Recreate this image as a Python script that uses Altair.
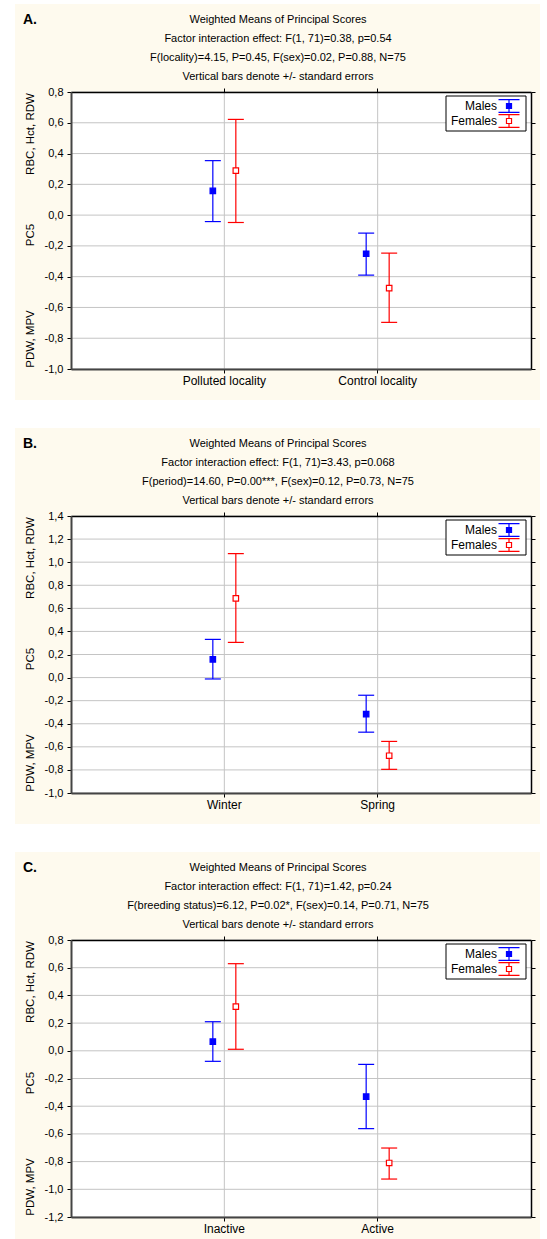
import altair as alt
import pandas as pd

FONT = "Liberation Sans, Arial, sans-serif"
BLUE = "#0000ff"
RED = "#ff0000"
CREAM = "#fefaee"
GRID = "#c4c4c4"
SEXES = ["Males", "Females"]

# ---------------- Panel A ----------------
A_letter = "A."
A_title = [
    "Weighted Means of Principal Scores",
    "Factor interaction effect: F(1, 71)=0.38, p=0.54",
    "F(locality)=4.15, P=0.45, F(sex)=0.02, P=0.88, N=75",
    "Vertical bars denote +/- standard errors",
]
A_cats = ["Polluted locality", "Control locality"]
A_m_mean = [0.157, -0.251]
A_m_low = [-0.042, -0.390]
A_m_up = [0.354, -0.117]
A_f_mean = [0.289, -0.474]
A_f_low = [-0.048, -0.697]
A_f_up = [0.622, -0.247]
A_yticks = [-1.0, -0.8, -0.6, -0.4, -0.2, 0.0, 0.2, 0.4, 0.6, 0.8]

# ---------------- Panel B ----------------
B_letter = "B."
B_title = [
    "Weighted Means of Principal Scores",
    "Factor interaction effect: F(1, 71)=3.43, p=0.068",
    "F(period)=14.60, P=0.00***, F(sex)=0.12, P=0.73, N=75",
    "Vertical bars denote +/- standard errors",
]
B_cats = ["Winter", "Spring"]
B_m_mean = [0.158, -0.317]
B_m_low = [-0.012, -0.473]
B_m_up = [0.331, -0.153]
B_f_mean = [0.686, -0.677]
B_f_low = [0.305, -0.795]
B_f_up = [1.074, -0.553]
B_yticks = [-1.0, -0.8, -0.6, -0.4, -0.2, 0.0, 0.2, 0.4, 0.6, 0.8, 1.0, 1.2, 1.4]

# ---------------- Panel C ----------------
C_letter = "C."
C_title = [
    "Weighted Means of Principal Scores",
    "Factor interaction effect: F(1, 71)=1.42, p=0.24",
    "F(breeding status)=6.12, P=0.02*, F(sex)=0.14, P=0.71, N=75",
    "Vertical bars denote +/- standard errors",
]
C_cats = ["Inactive", "Active"]
C_m_mean = [0.066, -0.331]
C_m_low = [-0.076, -0.562]
C_m_up = [0.210, -0.098]
C_f_mean = [0.319, -0.810]
C_f_low = [0.011, -0.926]
C_f_up = [0.629, -0.702]
C_yticks = [-1.2, -1.0, -0.8, -0.6, -0.4, -0.2, 0.0, 0.2, 0.4, 0.6, 0.8]

Y_TITLES = ["RBC, Hct, RDW", "PC5", "PDW, MPV"]

W, H = 460, 277

LBL = ("datum.value < -0.0001 ? '-' + replace(format(-datum.value, '.1f'), '.', ',') "
       ": replace(format(abs(datum.value), '.1f'), '.', ',')")

# legend glyph: error bar with a square in the middle (unit box -1..1)
GLYPH = ("M-1,-0.6H1M-1,0.6H1M0,-0.6V-0.24M0,0.24V0.6"
         "M-0.24,-0.24H0.24V0.24H-0.24Z")


def panel(letter, title, cats, m_mean, m_low, m_up, f_mean, f_low, f_up, yticks):
    df = pd.DataFrame({
        "cat": cats + cats,
        "sex": [SEXES[0]] * len(cats) + [SEXES[1]] * len(cats),
        "mean": m_mean + f_mean,
        "lower": m_low + f_low,
        "upper": m_up + f_up,
    })
    one = pd.DataFrame({"k": [0]})
    legdf = pd.DataFrame({"sex": SEXES})
    xscale = alt.Scale(domain=cats, paddingInner=0.7, paddingOuter=0.85)
    yscale = alt.Scale(domain=[yticks[0], yticks[-1]], nice=False, zero=False)
    offscale = alt.Scale(domain=SEXES, paddingInner=0, paddingOuter=0)
    cscale = alt.Scale(domain=SEXES, range=[BLUE, RED])
    fscale = alt.Scale(domain=SEXES, range=[BLUE, "white"])
    legy = alt.Scale(type="point", domain=SEXES, range=[14, 29], padding=0)

    cream = alt.Chart(one).mark_rect(fill=CREAM).encode(
        x=alt.value(-56), x2=alt.value(469), y=alt.value(-88), y2=alt.value(308))
    plotbg = alt.Chart(one).mark_rect(fill="white").encode(
        x=alt.value(0), x2=alt.value(W), y=alt.value(0), y2=alt.value(H))

    hgrid = alt.Chart(pd.DataFrame({"v": yticks})).mark_rule(color=GRID, strokeWidth=1).encode(
        y=alt.Y("v:Q", scale=yscale,
                axis=alt.Axis(orient="right", labels=False, ticks=True, tickSize=4,
                              tickColor="black", domain=True, domainColor="black",
                              domainWidth=1.5, grid=False, title=None, values=yticks,
                              zindex=1)),
        x=alt.value(0), x2=alt.value(W))

    vgrid = alt.Chart(pd.DataFrame({"cat": cats})).mark_rule(color=GRID, strokeWidth=1).encode(
        x=alt.X("cat:N", scale=xscale, sort=cats, bandPosition=0.5,
                axis=alt.Axis(orient="top", labels=False, ticks=True, tickSize=4,
                              tickColor="black", domain=True, domainColor="black",
                              domainWidth=1.5, grid=False, title=None, zindex=1)),
        y=alt.value(0), y2=alt.value(H))

    xenc_axis = alt.X("cat:N", scale=xscale, sort=cats,
                      axis=alt.Axis(orient="bottom", title=None, grid=False,
                                    domainColor="#444", domainWidth=2, tickSize=4,
                                    tickColor="black", labelFontSize=12, labelFont=FONT,
                                    labelColor="black", labelPadding=2, labelAngle=0,
                                    zindex=1))
    xenc = alt.X("cat:N", scale=xscale, sort=cats, axis=None)
    xoff = alt.XOffset("sex:N", scale=offscale, sort=SEXES)

    bars = alt.Chart(df).mark_rule(strokeWidth=1.2, opacity=1).encode(
        x=xenc_axis, xOffset=xoff,
        y=alt.Y("lower:Q", scale=yscale,
                axis=alt.Axis(orient="left", values=yticks, labelExpr=LBL, title=None,
                              grid=False, domain=True, domainColor="#444", domainWidth=2,
                              ticks=True, tickSize=4, tickColor="black", labelFontSize=11,
                              labelFont=FONT, labelColor="black", labelPadding=4,
                              zindex=1)),
        y2="upper:Q",
        color=alt.Color("sex:N", scale=cscale, legend=None))

    cap_up = alt.Chart(df).mark_tick(size=16, thickness=1.2, opacity=1).encode(
        x=xenc, xOffset=xoff, y=alt.Y("upper:Q", scale=yscale, axis=None),
        color=alt.Color("sex:N", scale=cscale, legend=None))
    cap_lo = alt.Chart(df).mark_tick(size=16, thickness=1.2, opacity=1).encode(
        x=xenc, xOffset=xoff, y=alt.Y("lower:Q", scale=yscale, axis=None),
        color=alt.Color("sex:N", scale=cscale, legend=None))

    pts = alt.Chart(df).mark_square(size=30, strokeWidth=1.2, opacity=1).encode(
        x=xenc, xOffset=xoff, y=alt.Y("mean:Q", scale=yscale, axis=None),
        fill=alt.Fill("sex:N", scale=fscale, legend=None),
        stroke=alt.Stroke("sex:N", scale=cscale, legend=None))

    # legend (box, labels, error-bar glyphs), built from the SEXES list
    legbox = alt.Chart(one).mark_rect(fill="white", stroke="black", strokeWidth=1).encode(
        x=alt.value(375), x2=alt.value(455), y=alt.value(4), y2=alt.value(39))
    leglab = alt.Chart(legdf).mark_text(font=FONT, fontSize=12, align="right",
                                        baseline="middle", color="black").encode(
        text="sex:N", x=alt.value(426),
        y=alt.Y("sex:N", scale=legy, sort=SEXES, axis=None))
    legsym = alt.Chart(legdf).mark_point(shape=GLYPH, size=441, strokeWidth=1.2,
                                         opacity=1, filled=False).encode(
        x=alt.value(438),
        y=alt.Y("sex:N", scale=legy, sort=SEXES, axis=None),
        fill=alt.Fill("sex:N", scale=fscale, legend=None),
        stroke=alt.Stroke("sex:N", scale=cscale, legend=None))

    letter_mark = alt.Chart(one).mark_text(
        text=letter, font=FONT, fontSize=14, fontWeight="bold", align="left",
        baseline="middle", color="black").encode(x=alt.value(-48), y=alt.value(-72))

    ytitle_y = [42, 143, 247]
    ytitles = [
        alt.Chart(one).mark_text(text=t, font=FONT, fontSize=11.5, angle=270, align="center",
                                 baseline="middle", color="black").encode(
            x=alt.value(-40), y=alt.value(yy))
        for t, yy in zip(Y_TITLES, ytitle_y)
    ]

    layer = alt.layer(cream, plotbg, hgrid, vgrid, bars, cap_up, cap_lo, pts,
                      legbox, leglab, legsym, letter_mark, *ytitles).properties(
        width=W, height=H,
        title=alt.TitleParams(text=title, font=FONT, fontSize=11, fontWeight="normal",
                              color="black", lineHeight=19, anchor="middle",
                              frame="group", dx=-23, offset=-78),
    ).resolve_axis(x="independent", y="independent").resolve_scale(y="independent")
    return layer


pA = panel(A_letter, A_title, A_cats, A_m_mean, A_m_low, A_m_up, A_f_mean, A_f_low, A_f_up, A_yticks)
pB = panel(B_letter, B_title, B_cats, B_m_mean, B_m_low, B_m_up, B_f_mean, B_f_low, B_f_up, B_yticks)
pC = panel(C_letter, C_title, C_cats, C_m_mean, C_m_low, C_m_up, C_f_mean, C_f_low, C_f_up, C_yticks)

chart = alt.vconcat(pA, pB, pC, spacing=28).resolve_scale(
    fill="independent", stroke="independent", color="independent"
).properties(
    padding={"left": 15, "top": 4, "right": 0, "bottom": 0},
    background="white",
).configure_view(stroke=None)

chart.save("out.html", embed_options={"renderer": "svg", "actions": False})
